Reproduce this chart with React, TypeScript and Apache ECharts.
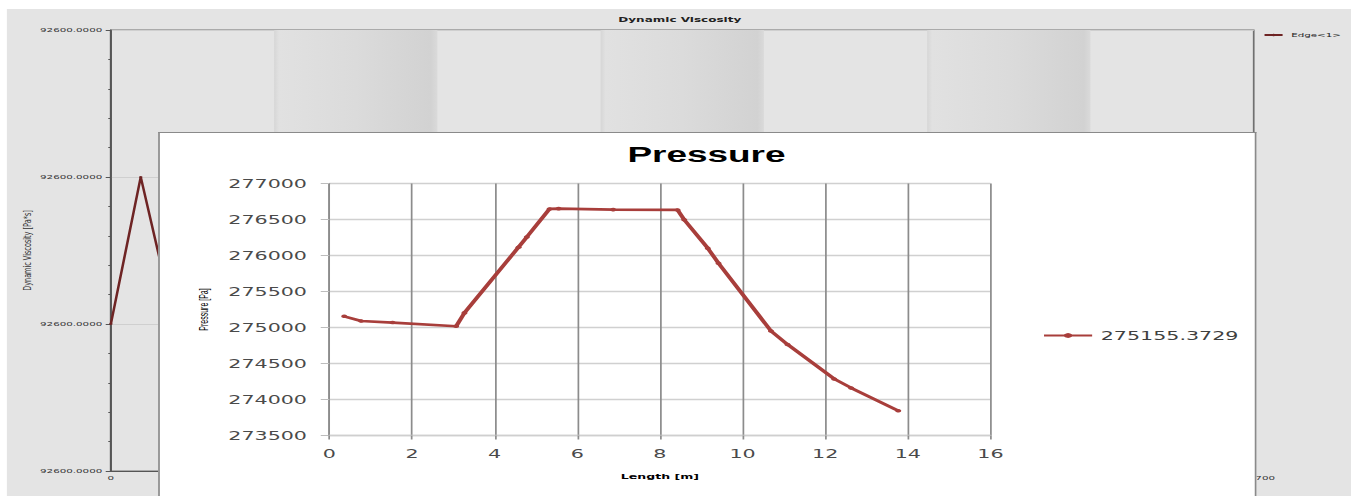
import React, { useEffect, useRef } from "react";
import * as echarts from "echarts";

// The reference picture is horizontally stretched; draw at a narrower width and stretch.
const BASE_W = 786;
const SCALE_X = 1351 / BASE_W;

// ---- Pressure chart (front) ----
const lengthM = [0.36, 0.77, 1.53, 3.07, 3.27, 4.58, 4.78, 5.33, 5.55, 6.87, 8.43, 8.59, 9.16, 9.42, 10.69, 11.09, 12.22, 12.63, 13.77];
const pressurePa = [275155, 275091, 275068, 275017, 275203, 276116, 276256, 276647, 276651, 276637, 276633, 276497, 276102, 275892, 274951, 274765, 274286, 274161, 273844];
const pressureSeriesName = "275155.3729";
const pressureTitle = "Pressure";
const pressureXName = "Length [m]";
const pressureYName = "Pressure [Pa]";
const pressureYMin = 273500;
const pressureYMax = 277000;
const pressureYStep = 500;
const lengthMin = 0;
const lengthMax = 16;
const lengthStep = 2;

// ---- Dynamic viscosity chart (behind) ----
const viscosityLength = [0, 0.36, 0.77, 1.53, 3.07, 3.27, 4.58, 4.78, 5.33, 5.55, 6.87, 8.43, 8.59, 9.16, 9.42, 10.69, 11.09, 12.22, 12.63, 13.77];
// deviation from 92600 Pa*s, in units of 1e-5 Pa*s
const viscosityDelta = [0, 1, 0, 0, 0, 0, 0, 0, 0, 0, 0, 0, 0, 0, 0, 0, 0, 0, 0, 0];
const viscosityBase = 92600;
const viscosityUnit = 1e-5;
const viscosityDeltaMin = -1;
const viscosityDeltaMax = 2;
const viscosityDeltaStep = 1;
const viscositySeriesName = "Edge<1>";
const viscosityTitle = "Dynamic Viscosity";
const viscosityYName = "Dynamic Viscosity [Pa*s]";
const viscosityLengthMax = 13.77;
const bandCount = 7;

export default function App() {
  const bgRef = useRef<HTMLDivElement>(null);
  const fgRef = useRef<HTMLDivElement>(null);

  useEffect(() => {
    document.body.style.margin = "0";
    document.body.style.overflow = "hidden";
    const bg = echarts.init(bgRef.current!, null, { renderer: "svg" });
    const fg = echarts.init(fgRef.current!, null, { renderer: "svg" });

    const bandW = viscosityLengthMax / bandCount;
    const bands: any[] = [];
    for (let i = 1; i < bandCount; i += 2) {
      bands.push([{ xAxis: i * bandW }, { xAxis: (i + 1) * bandW }]);
    }

    const bgOption: any = {
      animation: false,
      backgroundColor: "transparent",
      textStyle: { fontFamily: "DejaVu Sans" },
      title: {
        text: viscosityTitle,
        left: "center",
        top: 7.5,
        padding: 0,
        textStyle: { fontSize: 7, fontWeight: "bold", color: "#222" },
      },
      legend: {
        data: [viscositySeriesName],
        left: 730.7,
        top: 23,
        padding: 0,
        itemWidth: 10.5,
        itemHeight: 3,
        textStyle: { fontSize: 6, color: "#222" },
      },
      grid: {
        left: 60.5,
        top: 21,
        right: 57.6,
        bottom: 25,
        outerBoundsMode: "none",
        containLabel: false,
        show: true,
        borderColor: "#707070",
        borderWidth: 1,
        backgroundColor: "transparent",
      },
      xAxis: {
        type: "value",
        min: 0,
        max: viscosityLengthMax,
        interval: viscosityLengthMax,
        axisLine: { show: true, onZero: false, lineStyle: { color: "#555", width: 1.2 } },
        axisTick: { show: false },
        splitLine: { show: false },
        axisLabel: {
          fontSize: 6,
          color: "#333",
          margin: 4,
          formatter: (v: number) => (v === 0 ? "0" : v.toFixed(4)),
        },
      },
      yAxis: {
        type: "value",
        min: viscosityDeltaMin,
        max: viscosityDeltaMax,
        interval: viscosityDeltaStep,
        name: viscosityYName,
        nameLocation: "middle",
        nameGap: 45,
        nameMoveOverlap: false,
        nameTextStyle: { fontSize: 6.5, color: "#333" },
        axisLine: { show: true, onZero: false, lineStyle: { color: "#555", width: 1.2 } },
        axisTick: { show: true, length: 3, lineStyle: { color: "#555" } },
        minorTick: { show: true, splitNumber: 5, length: 1.5, lineStyle: { color: "#555" } },
        splitLine: { show: true, lineStyle: { color: "#cfcfcf" } },
        axisLabel: {
          fontSize: 6,
          color: "#333",
          margin: 5,
          formatter: (v: number) => (viscosityBase + v * viscosityUnit).toFixed(4),
        },
      },
      series: [
        {
          name: viscositySeriesName,
          type: "line",
          data: viscosityLength.map((x, i) => [x, viscosityDelta[i]]),
          symbol: "circle",
          symbolSize: 2,
          lineStyle: { color: "#6e2424", width: 1.5 },
          itemStyle: { color: "#6e2424" },
          markArea: {
            silent: true,
            itemStyle: {
              color: {
                type: "linear",
                x: 0,
                y: 0,
                x2: 1,
                y2: 0,
                colorStops: [
                  { offset: 0, color: "#d6d6d6" },
                  { offset: 0.03, color: "#e1e1e1" },
                  { offset: 0.5, color: "#dbdbdb" },
                  { offset: 0.96, color: "#d2d2d2" },
                  { offset: 1, color: "#dadada" },
                ],
              },
            },
            data: bands,
          },
        },
      ],
    };

    const fgOption: any = {
      animation: false,
      backgroundColor: "#fff",
      textStyle: { fontFamily: "DejaVu Sans" },
      title: {
        text: pressureTitle,
        left: "center",
        top: 11,
        padding: 0,
        textStyle: { fontFamily: "Liberation Sans", fontSize: 21.5, fontWeight: "bold", color: "#000" },
      },
      legend: {
        data: [pressureSeriesName],
        left: 513.4,
        top: 196.5,
        padding: 0,
        itemWidth: 28,
        itemHeight: 6,
        textStyle: { fontSize: 12, color: "#404040" },
      },
      grid: { left: 98.6, top: 50.5, width: 384.6, height: 252, outerBoundsMode: "none", containLabel: false },
      xAxis: {
        type: "value",
        min: lengthMin,
        max: lengthMax,
        interval: lengthStep,
        name: pressureXName,
        nameLocation: "middle",
        nameGap: 37,
        nameTextStyle: { fontSize: 7.3, fontWeight: "bold", color: "#000" },
        axisLine: { show: true, onZero: false, lineStyle: { color: "#cfcfcf", width: 1.3 } },
        axisTick: { show: true, length: 4, lineStyle: { color: "#8c8c8c" } },
        axisLabel: { fontSize: 12, color: "#4a4a4a", margin: 12, formatter: (v: number) => String(v) },
        splitLine: { show: true, lineStyle: { color: "#8c8c8c", width: 1 } },
      },
      yAxis: {
        type: "value",
        min: pressureYMin,
        max: pressureYMax,
        interval: pressureYStep,
        name: pressureYName,
        nameLocation: "middle",
        nameGap: 66,
        nameTextStyle: { fontFamily: "Liberation Sans Narrow, Liberation Sans", fontSize: 7, color: "#000" },
        axisLine: { show: true, onZero: false, lineStyle: { color: "#8c8c8c", width: 1 } },
        axisTick: { show: true, length: 5, lineStyle: { color: "#bdbdbd" } },
        axisLabel: { fontSize: 12, color: "#4a4a4a", margin: 13, formatter: (v: number) => String(v) },
        splitLine: { show: true, lineStyle: { color: "#d0d0d0", width: 1.3 } },
      },
      series: [
        {
          name: pressureSeriesName,
          type: "line",
          data: lengthM.map((x, i) => [x, pressurePa[i]]),
          symbol: "circle",
          symbolSize: 3.5,
          lineStyle: { color: "#a83e3b", width: 2.6 },
          itemStyle: { color: "#a83e3b" },
          z: 5,
        },
      ],
    };

    bg.setOption(bgOption);
    fg.setOption(fgOption);
    return () => {
      bg.dispose();
      fg.dispose();
    };
  }, []);

  return (
    <div
      style={{
        position: "fixed",
        left: 0,
        top: 0,
        width: BASE_W,
        height: 496,
        overflow: "hidden",
        background: "#fff",
        transform: `scaleX(${SCALE_X})`,
        transformOrigin: "0 0",
      }}
    >
      <div
        ref={bgRef}
        style={{ position: "absolute", left: 3.5, top: 9, width: 782.5, height: 487, background: "#e4e4e4" }}
      />
      <div
        style={{
          position: "absolute",
          left: 91.9,
          top: 132,
          width: 639.4,
          height: 380,
          background: "#fff",
          border: "1.5px solid #8a8a8a",
          borderBottom: "none",
          boxSizing: "border-box",
        }}
      >
        <div ref={fgRef} style={{ position: "absolute", left: 0, top: 0, width: 636.4, height: 378 }} />
      </div>
    </div>
  );
}
